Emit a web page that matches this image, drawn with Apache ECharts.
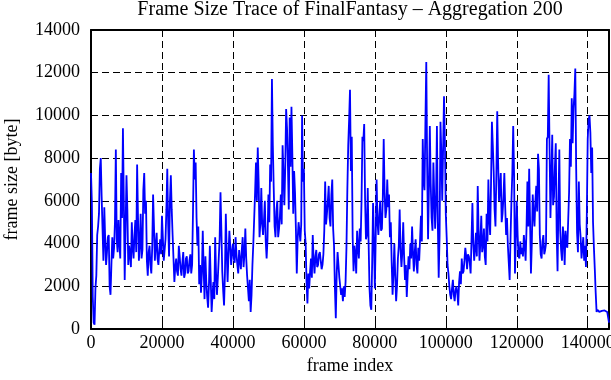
<!DOCTYPE html>
<html>
<head>
<meta charset="utf-8">
<script src="https://cdn.jsdelivr.net/npm/echarts@6/dist/echarts.min.js"></script>
<style>
  html, body { margin: 0; padding: 0; background: #fff; }
  #main { width: 611px; height: 380px; }
</style>
</head>
<body>
<div id="main"></div>
<script>
// one sample every 250 frames
const frameStep = 250;
const frameSize = [
  7300,5900, 1500,300, 200,1900, 2500,4400, 4800,5400, 7500,8000, 6200,4700, 3200,5700, 4200,3000, 3600,4300,
  4400,2000, 1600,3000, 4300,3300, 3800,5000, 8400,4200, 3600,5100, 4000,3300, 7300,5200, 9400,6000, 2300,4800,
  7200,5600, 3000,3900, 3500,2900, 5000,3800, 3300,4400, 5100,3600, 7700,5200, 3200,4000, 5400,3300, 3700,6500,
  7300,5400, 6000,3200, 2500,3600, 3900,3000, 2600,3800, 6300,4800, 3200,3900, 4500,3300, 3000,3700, 4200,3500,
  5300,4300, 3200,3700, 4200,5600, 7500,4900, 3400,6000, 7200,5600, 4400,3300, 2200,2900, 3300,2700, 2500,3900,
  3400,2800, 2500,3100, 3600,2400, 2600,3300, 3400,2600, 2700,3200, 3500,2600, 3000,5500, 8400,7000, 7800,5200,
  3900,4800, 2100,3000, 1700,2600, 4600,2800, 1400,3400, 2200,1500, 1000,2100, 3900,2300, 800,1600, 2200,1400,
  4300,2600, 1600,2400, 3300,4200, 6400,4600, 2700,1800, 1100,2600, 5400,3600, 2200,3500, 4600,3900, 3000,3600,
  4000,3300, 3100,4300, 3500,3000, 2600,3700, 3200,2800, 3700,4300, 2900,3500, 4700,3300, 2500,1900, 1300,2300,
  800,1600, 3000,4000, 5200,6400, 7800,6000, 8500,6900, 4300,5000, 6600,4900, 4400,5100, 6000,4100, 3300,4200,
  6300,5000, 7700,6900, 11700,8600, 6600,4800, 4300,5500, 6000,4300, 4700,5300, 6300,4900, 8600,7300, 5800,7600,
  10300,9400, 7700,5600, 9900,7600, 10400,8200, 5400,7400, 6400,4700, 2600,4200, 5000,4600, 4100,4900, 10000,6900,
  7500,4600, 4000,2200, 1200,2600, 1900,2700, 3300,2400, 4400,3200, 2600,3400, 3700,2900, 3000,3500, 3600,3200,
  2800,3000, 3500,4600, 6900,4900, 5400,6000, 6700,5200, 4800,6300, 7000,4700, 3900,1900, 500,2600, 3600,3000,
  2400,2000, 1600,1900, 1300,2000, 1500,2200, 3800,6500, 8600,9800, 11200,7400, 9000,4300, 2700,3900, 3500,2600,
  4600,3800, 3300,4700, 4100,6000, 9000,8800, 9600,6100, 4200,4400, 6600,4000, 1900,1100, 900,3100, 5900,4200,
  1900,4300, 7000,5000, 4400,5300, 6000,4600, 4700,6200, 8900,6400, 5200,5600, 7000,5700, 6300,4300, 5000,3100,
  1600,2600, 4000,2500, 1300,2000, 3300,3900, 5600,3700, 2900,3600, 5000,3400, 2300,3000, 1500,2500, 3400,2800,
  4000,3300, 4800,3600, 2700,3600, 4200,3000, 2600,3800, 3200,4200, 5300,4100, 8900,7000, 6500,9600, 12500,7600,
  4200,6600, 9500,6800, 5200,4600, 7800,6200, 4700,6100, 9500,5000, 2400,4400, 9700,8200, 6000,8500, 10900,8800,
  5400,4300, 3000,2600, 2000,1600, 1400,1900, 2300,1600, 1300,1800, 2000,1700, 1100,2200, 2700,2100, 3300,2600,
  2700,3200, 3800,3400, 2800,3500, 3400,3100, 2600,4200, 5900,4000, 3200,3800, 4500,3400, 6700,4600, 3200,4100,
  5300,3600, 3900,4700, 3400,3000, 5400,4100, 7000,5200, 4400,6800, 9700,8600, 7400,5600, 4800,7200, 10200,7800,
  6000,6600, 7300,5000, 5400,6200, 7300,5700, 4400,5200, 3900,3100, 2300,4300, 6000,7300, 9500,7200, 2600,4300,
  6000,4400, 3400,3300, 4100,3500, 3800,3400, 4400,3900, 3200,4700, 6900,4800, 7500,5100, 2600,4000, 6300,5400,
  4800,6000, 6700,5500, 8200,7500, 4400,3500, 3300,4100, 4400,3500, 3700,4000, 8900,9000, 11900,8400, 5200,7100,
  9100,5800, 6200,7600, 8700,4500, 2700,5900, 8400,4600, 3700,3200, 4800,4300, 3000,4600, 4000,3800, 5100,6400,
  8900,7600, 10800,8700, 10300,11000, 12200,7500, 4500,3600, 6900,4900, 4300,3300, 3800,4300, 3200,3900, 2900,5400,
  8900,9800, 10000,9200, 7300,8500, 5000,3800, 2800,1700, 800,900, 850,800, 750,820, 850,780, 800,870,
  830,790, 800,760, 300
];

const titleText = 'Frame Size Trace of FinalFantasy \u2013 Aggregation 200';
const xName = 'frame index';
const yName = 'frame size [byte]';

const seriesData = frameSize.map((v, i) => [i * frameStep, v]);

const FONT = '"Liberation Serif", "DejaVu Serif", serif';
const chart = echarts.init(document.getElementById('main'), null, { renderer: 'canvas' });

const xBase = { type: 'value', min: 0, max: 146000, interval: 20000 };
const yBase = { type: 'value', min: 0, max: 14000, interval: 2000 };
const frameLine = { show: true, onZero: false, lineStyle: { color: '#000', width: 2 } };
const inTick = { show: true, inside: true, length: 7, lineStyle: { color: '#000', width: 1 } };
const dashed = { show: true, lineStyle: { color: '#000', width: 1, type: [7, 4] } };

const option = {
  animation: false,
  backgroundColor: '#fff',
  graphic: [{
    type: 'text',
    x: 350,
    y: 10,
    style: {
      text: titleText,
      font: '20px ' + FONT,
      fill: '#000',
      align: 'center',
      verticalAlign: 'middle'
    }
  }],
  grid: { left: 91, right: 2, top: 30, bottom: 51, containLabel: false, outerBoundsMode: 'none' },
  xAxis: [
    Object.assign({}, xBase, {
      position: 'bottom',
      name: xName,
      nameLocation: 'middle',
      nameGap: 27,
      nameTextStyle: { fontFamily: FONT, fontSize: 18, color: '#000' },
      axisLine: frameLine,
      axisTick: inTick,
      splitLine: dashed,
      axisLabel: {
        margin: 5, showMaxLabel: false,
        fontFamily: FONT, fontSize: 18, color: '#000',
        formatter: v => String(v)
      }
    }),
    Object.assign({}, xBase, {
      position: 'top',
      axisLine: frameLine,
      axisTick: inTick,
      splitLine: { show: false },
      axisLabel: { show: false }
    })
  ],
  yAxis: [
    Object.assign({}, yBase, {
      position: 'left',
      name: yName,
      nameLocation: 'middle',
      nameGap: 70,
      nameTextStyle: { fontFamily: FONT, fontSize: 18, color: '#000' },
      axisLine: frameLine,
      axisTick: inTick,
      splitLine: dashed,
      axisLabel: {
        margin: 11,
        fontFamily: FONT, fontSize: 18, color: '#000',
        formatter: v => String(v)
      }
    }),
    Object.assign({}, yBase, {
      position: 'right',
      axisLine: frameLine,
      axisTick: inTick,
      splitLine: { show: false },
      axisLabel: { show: false }
    })
  ],
  series: [{
    type: 'line',
    xAxisIndex: 0,
    yAxisIndex: 0,
    data: seriesData,
    smooth: false,
    showSymbol: false,
    symbol: 'none',
    sampling: null,
    lineStyle: { color: '#0000ff', width: 1.8 },
    z: 3
  }]
};

chart.setOption(option);
</script>
</body>
</html>
